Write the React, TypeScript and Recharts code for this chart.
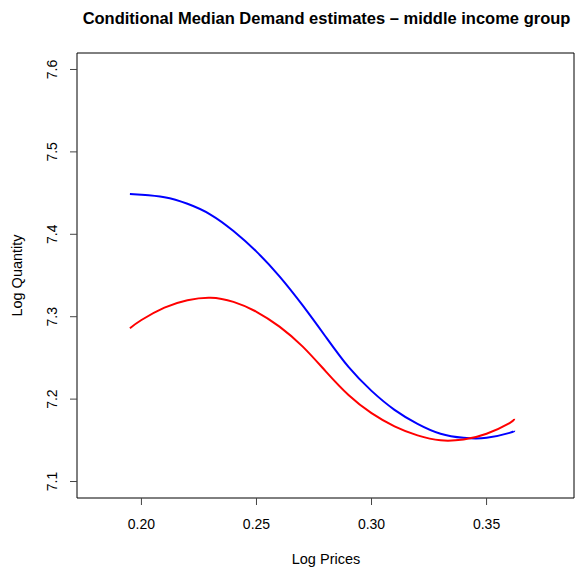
import { LineChart, Line, XAxis, YAxis, ReferenceArea } from 'recharts';

const logPrices = [0.195, 0.2, 0.21, 0.22, 0.23, 0.24, 0.25, 0.26, 0.27, 0.28, 0.29, 0.3, 0.31, 0.32, 0.33, 0.34, 0.35, 0.36, 0.362];
const blueQuantity = [7.449, 7.448, 7.445, 7.437, 7.424, 7.404, 7.379, 7.349, 7.314, 7.276, 7.239, 7.21, 7.187, 7.17, 7.158, 7.153, 7.153, 7.159, 7.1615];
const redQuantity = [7.286, 7.296, 7.311, 7.32, 7.323, 7.318, 7.306, 7.288, 7.264, 7.234, 7.205, 7.183, 7.167, 7.156, 7.15, 7.151, 7.158, 7.171, 7.176];
const xTicks = [0.2, 0.25, 0.3, 0.35];
const yTicks = [7.1, 7.2, 7.3, 7.4, 7.5, 7.6];

const data = logPrices.map((p, i) => ({ p, blue: blueQuantity[i], red: redQuantity[i] }));

const font = '"Liberation Sans", Arial, Helvetica, sans-serif';

const XTick = (props: any) => {
  const { x, y, payload } = props;
  return (
    <text x={x} y={y} dy={22} textAnchor="middle" fontSize={14} fontFamily={font} fill="#000">
      {payload.value.toFixed(2)}
    </text>
  );
};

const YTick = (props: any) => {
  const { x, y, payload } = props;
  const tx = x - 11;
  return (
    <text x={tx} y={y} textAnchor="middle" fontSize={14} fontFamily={font} fill="#000" transform={`rotate(-90, ${tx}, ${y})`}>
      {payload.value.toFixed(1)}
    </text>
  );
};

export default function App() {
  return (
    <div style={{ position: 'absolute', left: 0, top: 0, width: 575, height: 567, background: '#fff' }}>
      <LineChart width={575} height={567} data={data} margin={{ top: 53, right: 1, bottom: 0, left: 0 }}>
        <XAxis
          dataKey="p"
          type="number"
          domain={[0.172, 0.388]}
          ticks={xTicks}
          allowDataOverflow
          height={69}
          tickSize={7}
          axisLine={false}
          tickLine={{ stroke: '#444' }}
          tick={<XTick />}
        />
        <YAxis
          type="number"
          domain={[7.08, 7.62]}
          ticks={yTicks}
          allowDataOverflow
          width={77}
          tickSize={7}
          axisLine={false}
          tickLine={{ stroke: '#444' }}
          tick={<YTick />}
        />
        <ReferenceArea x1={0.172} x2={0.388} y1={7.08} y2={7.62} fill="none" stroke="#000" strokeWidth={1} ifOverflow="visible" />
        <Line dataKey="blue" type="natural" stroke="#0000ff" strokeWidth={2} dot={false} isAnimationActive={false} />
        <Line dataKey="red" type="natural" stroke="#ff0000" strokeWidth={2} dot={false} isAnimationActive={false} />
      </LineChart>
      <svg width={575} height={567} style={{ position: 'absolute', left: 0, top: 0, pointerEvents: 'none' }}>
        <text x={326.5} y={24} textAnchor="middle" fontSize={16.5} fontWeight="bold" fontFamily={font} fill="#000">
          Conditional Median Demand estimates – middle income group
        </text>
        <text x={326} y={564} textAnchor="middle" fontSize={14.5} fontFamily={font} fill="#000">
          Log Prices
        </text>
        <text x={22} y={275.5} textAnchor="middle" fontSize={14.5} fontFamily={font} fill="#000" transform="rotate(-90, 22, 275.5)">
          Log Quantity
        </text>
      </svg>
    </div>
  );
}
